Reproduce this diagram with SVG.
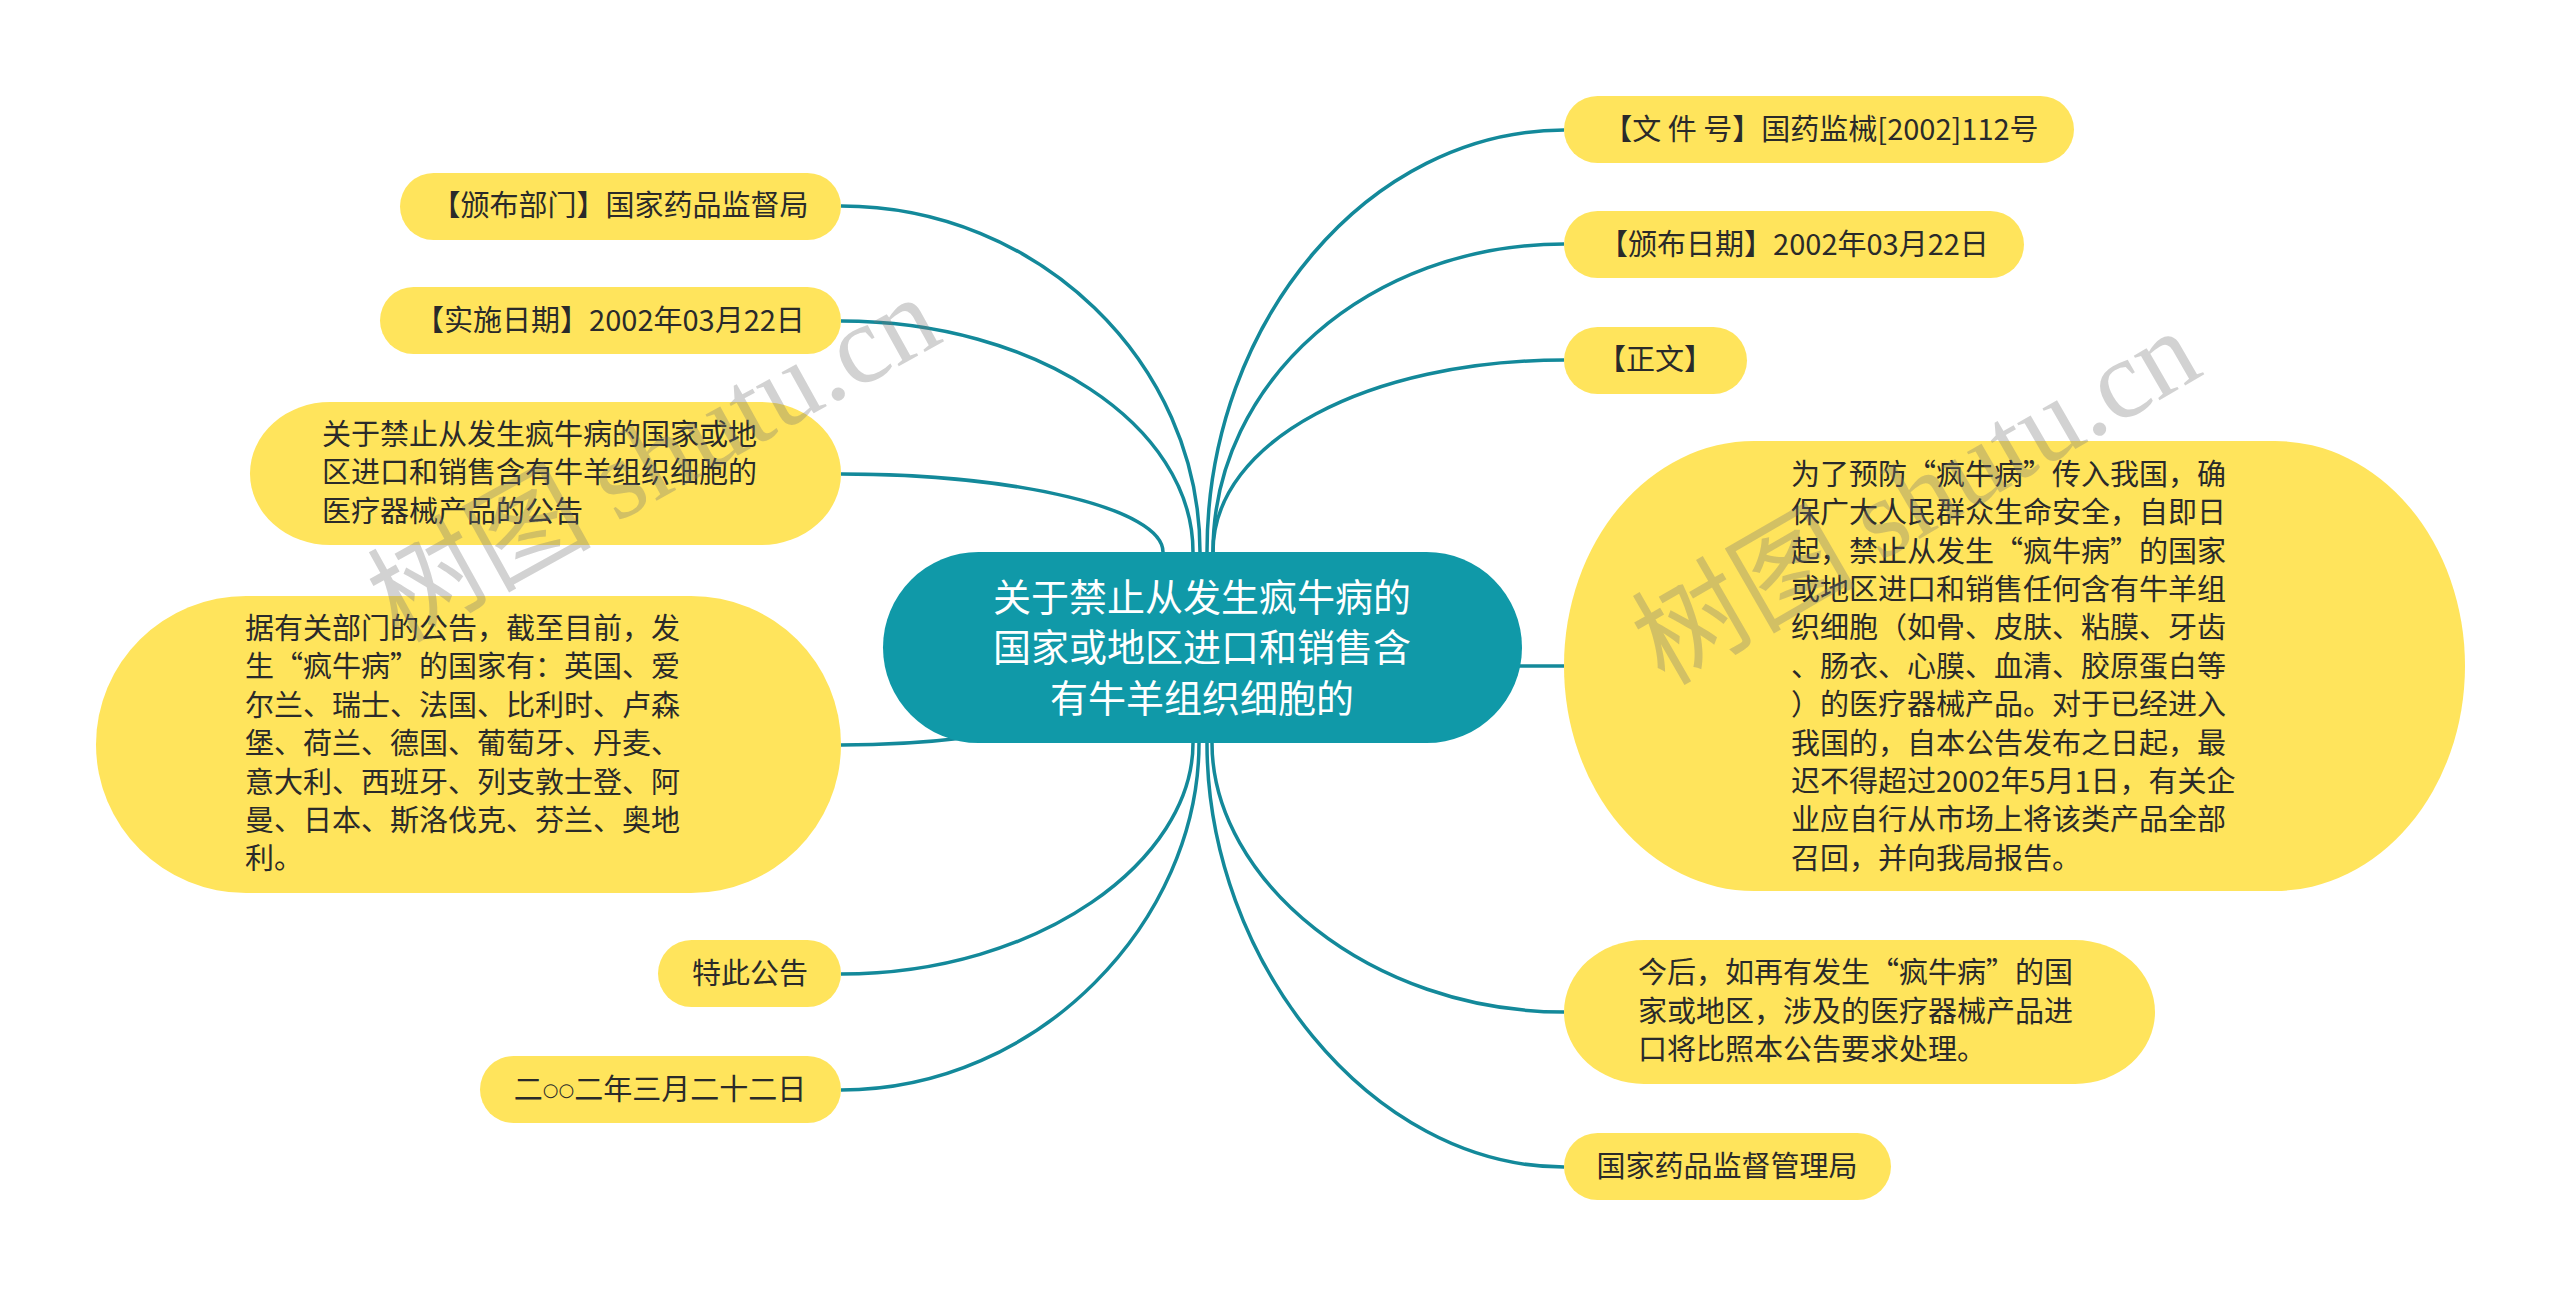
<svg xmlns="http://www.w3.org/2000/svg" width="2560" height="1296" viewBox="0 0 2560 1296">
<style>
.n{fill:#FFE45C}
.t{font-family:"Noto Sans CJK SC","Microsoft YaHei",sans-serif;font-size:29px;fill:#2a2a2a}
.c{text-anchor:middle}
.root{fill:#1099A8}
.rt{font-family:"Noto Sans CJK SC",sans-serif;font-size:38px;fill:#ffffff;text-anchor:middle}
.e{fill:none;stroke:#13899A;stroke-width:3.5}
.wm{font-size:112px;fill:#777;fill-opacity:0.33}
</style>
<rect width="2560" height="1296" fill="#ffffff"/>
<g id="connectors">
<path class="e" d="M1200 552 C1200 362 1038 206 841 206"/>
<path class="e" d="M1193 552 C1193 425 1035 321 841 321"/>
<path class="e" d="M1163 552 C1163 509 1018 474 841 474"/>
<path class="e" d="M963 738 C930 742 890 745 841 745"/>
<path class="e" d="M1193 743 C1193 860 1040 974 841 974"/>
<path class="e" d="M1199 743 C1199 920 1040 1090 841 1090"/>
<path class="e" d="M1207 552 C1207 320 1370 130 1564 130"/>
<path class="e" d="M1213 552 C1213 380 1370 244 1564 244"/>
<path class="e" d="M1213 552 C1213 440 1370 360 1564 360"/>
<path class="e" d="M1500 666 L1564 666"/>
<path class="e" d="M1212 743 C1212 880 1370 1012 1564 1012"/>
<path class="e" d="M1207 743 C1207 960 1370 1167 1564 1167"/>
</g>
<g id="root">
<rect class="root" x="883" y="552" width="639" height="191" rx="95.5"/>
<text class="rt" x="1202" y="611">关于禁止从发生疯牛病的</text>
<text class="rt" x="1202" y="661">国家或地区进口和销售含</text>
<text class="rt" x="1202" y="712">有牛羊组织细胞的</text>
</g>
<g id="node-bumen">
<rect class="n" x="400" y="173" width="441" height="67" rx="33.5"/>
<text class="t c" x="620" y="216">【颁布部门】国家药品监督局</text>
</g>
<g id="node-shishi">
<rect class="n" x="380" y="287" width="461" height="67" rx="33.5"/>
<text class="t c" x="610" y="331">【实施日期】2002年03月22日</text>
</g>
<g id="node-title">
<rect class="n" x="250" y="402" width="591" height="143" rx="80" ry="71.5"/>
<text class="t" x="322" y="445">关于禁止从发生疯牛病的国家或地</text>
<text class="t" x="322" y="483">区进口和销售含有牛羊组织细胞的</text>
<text class="t" x="322" y="522">医疗器械产品的公告</text>
</g>
<g id="node-countries">
<rect class="n" x="96" y="596" width="745" height="297" rx="150" ry="148.5"/>
<text class="t" x="245" y="639">据有关部门的公告，截至目前，发</text>
<text class="t" x="245" y="677">生“疯牛病”的国家有：英国、爱</text>
<text class="t" x="245" y="716">尔兰、瑞士、法国、比利时、卢森</text>
<text class="t" x="245" y="754">堡、荷兰、德国、葡萄牙、丹麦、</text>
<text class="t" x="245" y="793">意大利、西班牙、列支敦士登、阿</text>
<text class="t" x="245" y="831">曼、日本、斯洛伐克、芬兰、奥地</text>
<text class="t" x="245" y="869">利。</text>
</g>
<g id="node-tecigonggao">
<rect class="n" x="658" y="940" width="183" height="67" rx="33.5"/>
<text class="t c" x="750" y="984">特此公告</text>
</g>
<g id="node-date">
<rect class="n" x="480" y="1056" width="361" height="67" rx="33.5"/>
<text class="t c" x="660" y="1100">二<tspan dy="-4" font-size="18" font-family="DejaVu Sans,sans-serif">○○</tspan><tspan dy="4">二年三月二十二日</tspan></text>
</g>
<g id="node-wenjianhao">
<rect class="n" x="1564" y="96" width="510" height="67" rx="33.5"/>
<text class="t c" x="1821" y="140">【文 件 号】国药监械[2002]112号</text>
</g>
<g id="node-banbu">
<rect class="n" x="1564" y="211" width="460" height="67" rx="33.5"/>
<text class="t c" x="1794" y="255">【颁布日期】2002年03月22日</text>
</g>
<g id="node-zhengwen">
<rect class="n" x="1564" y="327" width="183" height="67" rx="33.5"/>
<text class="t c" x="1655" y="370">【正文】</text>
</g>
<g id="node-body">
<rect class="n" x="1564" y="441" width="901" height="450" rx="190" ry="225"/>
<text class="t" x="1791" y="485">为了预防“疯牛病”传入我国，确</text>
<text class="t" x="1791" y="523">保广大人民群众生命安全，自即日</text>
<text class="t" x="1791" y="562">起，禁止从发生“疯牛病”的国家</text>
<text class="t" x="1791" y="600">或地区进口和销售任何含有牛羊组</text>
<text class="t" x="1791" y="638">织细胞（如骨、皮肤、粘膜、牙齿</text>
<text class="t" x="1791" y="677">、肠衣、心膜、血清、胶原蛋白等</text>
<text class="t" x="1791" y="715">）的医疗器械产品。对于已经进入</text>
<text class="t" x="1791" y="754">我国的，自本公告发布之日起，最</text>
<text class="t" x="1791" y="792">迟不得超过2002年5月1日，有关企</text>
<text class="t" x="1791" y="830">业应自行从市场上将该类产品全部</text>
<text class="t" x="1791" y="869">召回，并向我局报告。</text>
</g>
<g id="node-jinhou">
<rect class="n" x="1564" y="940" width="591" height="144" rx="80" ry="72"/>
<text class="t" x="1638" y="983">今后，如再有发生“疯牛病”的国</text>
<text class="t" x="1638" y="1022">家或地区，涉及的医疗器械产品进</text>
<text class="t" x="1638" y="1060">口将比照本公告要求处理。</text>
</g>
<g id="node-juuu">
<rect class="n" x="1564" y="1133" width="327" height="67" rx="33.5"/>
<text class="t c" x="1727" y="1177">国家药品监督管理局</text>
</g>
<g id="watermarks">
<text class="wm" transform="translate(672 492) rotate(-29)" text-anchor="middle"><tspan font-family="Noto Sans CJK SC,sans-serif">树图 </tspan><tspan font-family="Liberation Serif,serif">shutu.cn</tspan></text>
<text class="wm" transform="translate(1935 530) rotate(-30)" text-anchor="middle"><tspan font-family="Noto Sans CJK SC,sans-serif">树图 </tspan><tspan font-family="Liberation Serif,serif">shutu.cn</tspan></text>
</g>
</svg>
